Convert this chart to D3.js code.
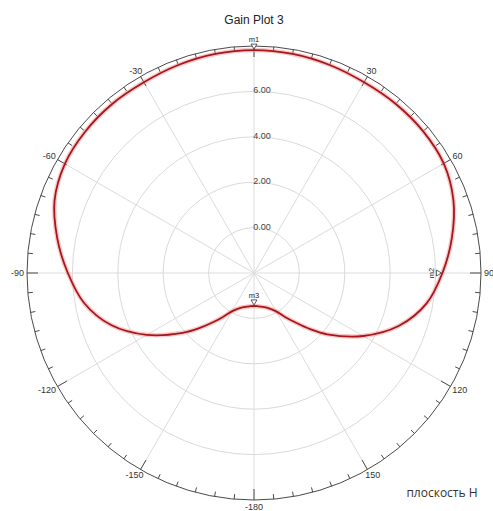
<!DOCTYPE html>
<html>
<head>
<meta charset="utf-8">
<script src="https://cdn.jsdelivr.net/npm/d3@7"></script>
<style>
  html, body { margin: 0; padding: 0; background: #ffffff; }
  svg { display: block; }
</style>
</head>
<body>
<svg id="chart" width="493" height="511"></svg>
<script>
// ---- data ----
const title = "Gain Plot 3";
const planeLabel = "плоскость H";
const angles = [-180,-170,-160,-155,-150,-145,-140,-135,-130,-120,-110,-100,-90,-80,-70,-60,-50,-40,-30,-20,-10,0,
                10,20,30,40,50,60,70,80,90,100,110,120,130,135,140,145,150,155,160,170,180];
const gainDb = [-0.55,-0.5,-0.38,-0.25,-0.05,0.35,0.85,1.45,2.1,3.45,4.7,5.6,6.2,6.8,7.35,7.62,7.7,7.72,7.7,7.75,7.8,7.82,
                7.8,7.75,7.7,7.72,7.72,7.65,7.35,6.85,6.3,5.72,4.8,3.55,2.2,1.5,0.85,0.35,-0.05,-0.25,-0.38,-0.5,-0.55];
const ringValues = [0, 2, 4, 6];
const ringLabels = ["0.00", "2.00", "4.00", "6.00"];
const radialDomain = [-2, 8];
const angleLabelDeg = [30, 60, 90, 120, 150, 180, -150, -120, -90, -60, -30];
const angleLabelText = ["30", "60", "90", "120", "150", "-180", "-150", "-120", "-90", "-60", "-30"];
const markerNames = ["m1", "m2", "m3"];
const markerDeg = [0, 90, 180];
const markerRot = [0, -90, 0];

// ---- layout ----
const cx = 254, cy = 273, R = 227;
const svg = d3.select("#chart");
const g = svg.append("g").attr("transform", `translate(${cx},${cy})`);
const rScale = d3.scaleLinear().domain(radialDomain).range([0, R]);
const rad = d => d * Math.PI / 180;
const px = (deg, r) => r * Math.sin(rad(deg));
const py = (deg, r) => -r * Math.cos(rad(deg));

// grid rings
g.selectAll("circle.ring").data(ringValues).join("circle")
  .attr("class", "ring").attr("r", d => rScale(d))
  .attr("fill", "none").attr("stroke", "#dadada").attr("stroke-width", 1);

// spokes every 30 deg
g.selectAll("line.spoke").data(d3.range(0, 360, 30)).join("line")
  .attr("x1", 0).attr("y1", 0)
  .attr("x2", d => px(d, R)).attr("y2", d => py(d, R))
  .attr("stroke", "#dcdcdc").attr("stroke-width", 1);

// outer circle
g.append("circle").attr("r", R).attr("fill", "none").attr("stroke", "#4a4a4a").attr("stroke-width", 1);

// ticks every 5 deg
g.selectAll("line.tick").data(d3.range(0, 360, 5)).join("line")
  .attr("x1", d => px(d, R)).attr("y1", d => py(d, R))
  .attr("x2", d => px(d, R - (d % 30 === 0 ? 11 : 5)))
  .attr("y2", d => py(d, R - (d % 30 === 0 ? 11 : 5)))
  .attr("stroke", "#4a4a4a").attr("stroke-width", 1);

// ring labels
g.selectAll("text.rl").data(ringValues).join("text")
  .attr("x", 8).attr("y", (d) => -rScale(d) + 2)
  .attr("text-anchor", "middle")
  .attr("font-family", "Liberation Sans, Arial, sans-serif")
  .attr("font-size", 9).attr("fill", "#444")
  .text((d, i) => ringLabels[i]);

// angle labels, box placed just outside the outer circle
const al = g.selectAll("text.al").data(angleLabelDeg).join("text")
  .attr("class", "al")
  .attr("text-anchor", "middle")
  .attr("dy", "0.35em")
  .attr("font-family", "Liberation Sans, Arial, sans-serif")
  .attr("font-size", 9).attr("fill", "#333")
  .text((d, i) => angleLabelText[i]);
al.each(function(d) {
  const w = this.getBBox().width;
  const rr = R + 2;
  const x = px(d, rr) + Math.sin(rad(d)) * (w / 2 + 1);
  const y = py(d, rr) - Math.cos(rad(d)) * 4.5;
  d3.select(this).attr("x", x).attr("y", Math.min(y, 235));
});

// gain curve
const pts = angles.map((a, i) => [rad(a), rScale(gainDb[i])]);
const line = d3.lineRadial().angle(d => d[0]).radius(d => d[1]).curve(d3.curveCatmullRom);
g.append("path").attr("d", line(pts)).attr("fill", "none")
  .attr("stroke", "rgba(240,140,140,0.45)").attr("stroke-width", 4.5);
g.append("path").attr("d", line(pts)).attr("fill", "none")
  .attr("stroke", "#a8161b").attr("stroke-width", 1.8);

// markers
const gainAt = deg => gainDb[angles.indexOf(deg)];
markerNames.forEach((name, i) => {
  const deg = markerDeg[i];
  const r = rScale(gainAt(deg));
  const mg = g.append("g")
    .attr("transform", `translate(${px(deg, r)},${py(deg, r)}) rotate(${markerRot[i]})`);
  mg.append("path").attr("d", "M0,-1 L-3,-6 L3,-6 Z")
    .attr("fill", "#fff").attr("stroke", "#333").attr("stroke-width", 0.8);
  mg.append("text").attr("x", 0).attr("y", -8)
    .attr("text-anchor", "middle")
    .attr("font-family", "Liberation Sans, Arial, sans-serif")
    .attr("font-size", 7.5).attr("fill", "#222").text(name);
});

// title
svg.append("text").attr("x", 254).attr("y", 24).attr("text-anchor", "middle")
  .attr("font-family", "Liberation Sans, Arial, sans-serif")
  .attr("font-size", 12).attr("fill", "#222").text(title);

// plane label
svg.append("text").attr("x", 442).attr("y", 497).attr("text-anchor", "middle")
  .attr("font-family", "Open Sans, sans-serif")
  .attr("font-size", 12).attr("fill", "#333").text(planeLabel);
</script>
</body>
</html>
